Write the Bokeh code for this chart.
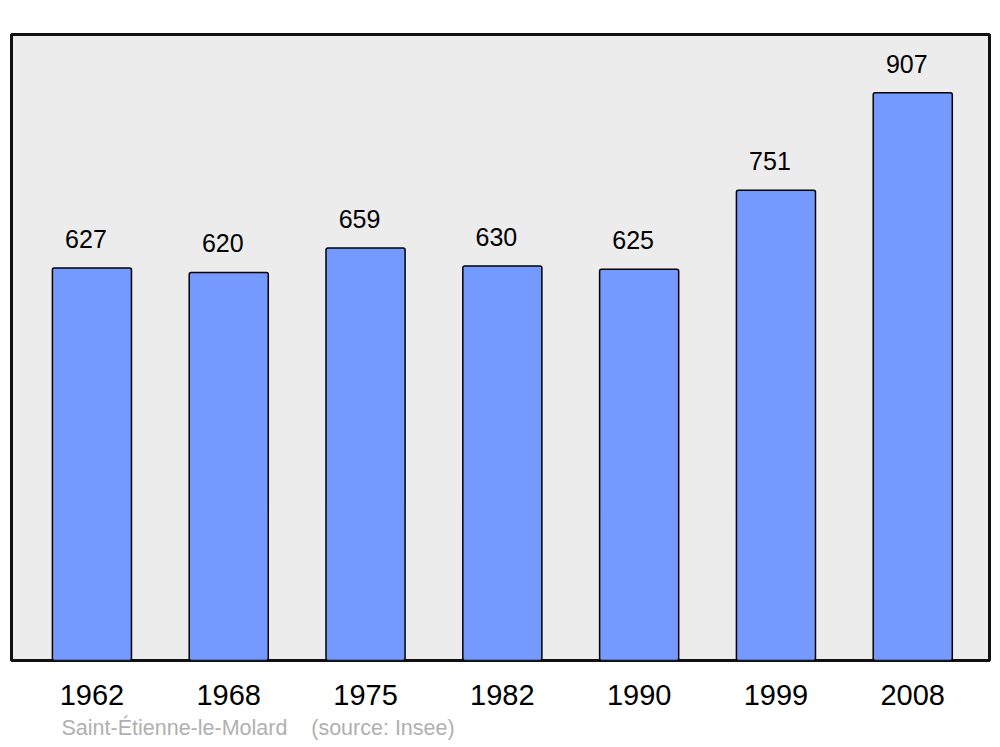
from bokeh.plotting import figure
from bokeh.models import ColumnDataSource, FixedTicker, Range1d, Title
from bokeh.core.properties import value
from bokeh.embed import file_html
from bokeh.resources import INLINE

years = ["1962", "1968", "1975", "1982", "1990", "1999", "2008"]
population = [627, 620, 659, 630, 625, 751, 907]
positions = list(range(len(years)))

src = ColumnDataSource(dict(x=positions, pop=population, lab=[str(v) for v in population]))

p = figure(width=1000, height=747, output_backend="svg", toolbar_location=None,
           x_range=Range1d(-0.588, 6.561), y_range=Range1d(0, 1000))
p.min_border_left = 11
p.min_border_right = 11
p.min_border_top = 34
p.min_border_bottom = 87
p.background_fill_color = "#ececec"
p.border_fill_color = "white"
p.outline_line_color = "#111111"
p.outline_line_width = 3
p.xgrid.visible = False
p.ygrid.visible = False
p.yaxis.visible = False

p.vbar(x="x", top="pop", bottom=0, width=0.578, source=src,
       fill_color="#7499ff", line_color="black", line_width=1.5, border_radius=2)
p.text(x="x", y="pop", text="lab", source=src, x_offset=-6, y_offset=-29,
       text_align="center", text_baseline="alphabetic",
       text_font=value("Liberation Sans"), text_font_size="25px", text_color="black")

ax = p.xaxis[0]
ax.ticker = FixedTicker(ticks=positions)
ax.major_label_overrides = {i: y for i, y in zip(positions, years)}
ax.axis_line_color = None
ax.major_tick_line_color = None
ax.minor_tick_line_color = None
ax.major_tick_out = 0
ax.major_tick_in = 0
ax.major_label_text_font = "Liberation Sans"
ax.major_label_text_font_size = "29px"
ax.major_label_text_color = "black"
ax.major_label_standoff = 24

src_title = Title(text="Saint-Étienne-le-Molard\u00a0\u00a0\u00a0\u00a0(source: Insee)",
                  align="left", offset=50, text_font="Liberation Sans",
                  text_font_size="21.5px", text_color="#b0b0b0", text_font_style="normal",
                  standoff=12)
p.add_layout(src_title, "below")

open("out.html", "w").write(file_html(p, INLINE))
